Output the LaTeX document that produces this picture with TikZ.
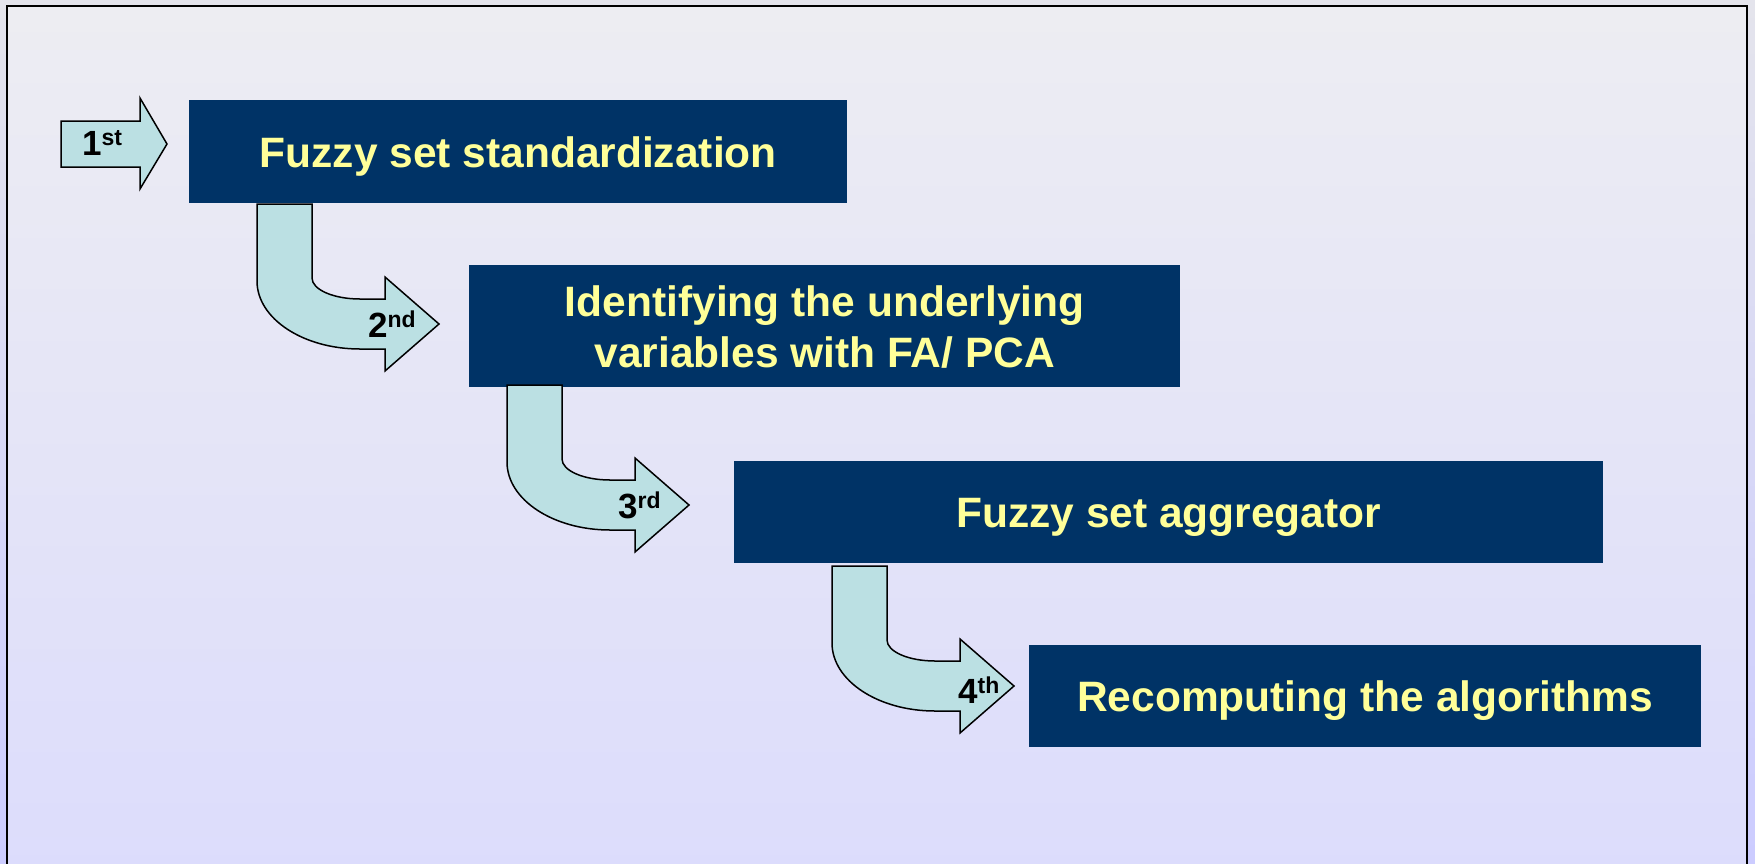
\documentclass[tikz,border=0pt]{standalone}
\usepackage{fontspec}
\setmainfont{Liberation Sans}
\definecolor{boxblue}{HTML}{003366}
\definecolor{txtyellow}{HTML}{FFFF99}
\definecolor{arrowfill}{HTML}{BBE0E3}
\definecolor{outtop}{HTML}{E4E4EC}
\definecolor{outbot}{HTML}{CCCCFF}
\definecolor{intop}{HTML}{EDEDF2}
\definecolor{inbot}{HTML}{DCDCFC}
\newcommand{\boxfont}{\fontsize{42.5}{51}\selectfont\bfseries}
\newcommand{\numfont}{\fontsize{35}{35}\selectfont\bfseries}
\newcommand{\supfont}{\fontsize{23}{23}\selectfont\bfseries}
\tikzset{
  stepbox/.style={fill=boxblue, text=txtyellow, font=\boxfont, inner sep=0pt, anchor=north west, text height=31pt, text depth=0pt},
  arrowshape/.style={fill=arrowfill, draw=black, line width=1.5pt, line join=miter},
  steplabel/.style={anchor=base west, inner sep=0pt, text=black},
  bentarrow/.pic={
    \draw[arrowshape] (0,0) -- (55,0) -- (55,74)
      .. controls (55,85.6) and (76.5,95) .. (103,95)
      -- (128,95) -- (128,73) -- (182,120) -- (128,167) -- (128,145) -- (103,145)
      .. controls (46.1,145) and (0,114.6) .. (0,77) -- cycle;
  }
}
\begin{document}
\begin{tikzpicture}[x=1pt,y=-1pt]
\useasboundingbox (0,0) rectangle (1755,863);
% background
\shade[top color=outtop, bottom color=outbot] (0,0) rectangle (1755,863);
\shade[top color=intop, bottom color=inbot] (7,6) rectangle (1747,880);
\draw[line width=2.5pt, black] (7,880) -- (7,6) -- (1747,6) -- (1747,880);
% boxes
\node[stepbox, minimum width=658pt, minimum height=103pt] (b1) at (189,100) {Fuzzy set standardization};
\node[stepbox, text height=82pt, minimum width=711pt, minimum height=122pt] (b2) at (469,265)
  {\vbox{\halign{\hfil#\hfil\cr Identifying the underlying\cr variables with FA/ PCA\cr}}};
\node[stepbox, minimum width=869pt, minimum height=102pt] (b3) at (734,461) {Fuzzy set aggregator};
\node[stepbox, minimum width=672pt, minimum height=102pt] (b4) at (1029,645) {Recomputing the algorithms};
% arrows
\draw[arrowshape] (61,121) -- (140,121) -- (140,98) -- (167,144) -- (140,189) -- (140,167) -- (61,167) -- cycle;
\pic at (257,204) {bentarrow};
\pic at (507,385) {bentarrow};
\pic at (832,566) {bentarrow};
% labels
\node[steplabel] (l1) at (82,155) {\numfont 1\raisebox{10pt}{\supfont st}};
\node[steplabel] (l2) at (368,337) {\numfont 2\raisebox{10pt}{\supfont nd}};
\node[steplabel] (l3) at (618,518) {\numfont 3\raisebox{10pt}{\supfont rd}};
\node[steplabel] (l4) at (958,703) {\numfont 4\raisebox{10pt}{\supfont th}};
\end{tikzpicture}
\end{document}
